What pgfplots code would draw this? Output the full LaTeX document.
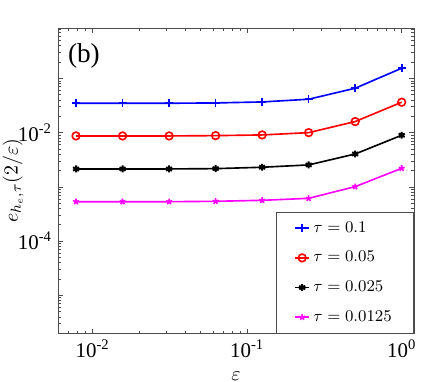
\documentclass[border=0pt]{standalone}
\usepackage{fontspec}
\setmainfont{Liberation Serif}
\usepackage{pgfplots}
\pgfplotsset{compat=1.18}
\definecolor{mblue}{RGB}{0,0,255}
\definecolor{mred}{RGB}{255,0,0}
\definecolor{mmag}{RGB}{255,0,255}

\begin{document}
\begin{tikzpicture}
\begin{axis}[
  xmode=log, ymode=log,
  log basis x=10, log basis y=10,
  scale only axis,
  width=195.6pt, height=167.9pt,
  xmin=0.006, xmax=1.2,
  ymin=2e-6, ymax=0.85,
  xtick={0.01,0.1,1},
  xticklabels={10\textsuperscript{-2},10\textsuperscript{-1},10\textsuperscript{0}},
  ytick={1e-5,1e-4,1e-3,1e-2,1e-1},
  yticklabels={,10\textsuperscript{-4},,10\textsuperscript{-2},},
  minor xtick={0.006,0.007,0.008,0.009,0.02,0.03,0.04,0.05,0.06,0.07,0.08,0.09,
    0.2,0.3,0.4,0.5,0.6,0.7,0.8,0.9},
  minor ytick={2e-6,3e-6,4e-6,5e-6,6e-6,7e-6,8e-6,9e-6,
    2e-5,3e-5,4e-5,5e-5,6e-5,7e-5,8e-5,9e-5,
    2e-4,3e-4,4e-4,5e-4,6e-4,7e-4,8e-4,9e-4,
    2e-3,3e-3,4e-3,5e-3,6e-3,7e-3,8e-3,9e-3,
    2e-2,3e-2,4e-2,5e-2,6e-2,7e-2,8e-2,9e-2,
    2e-1,3e-1,4e-1,5e-1,6e-1,7e-1,8e-1},
  tick align=inside,
  major tick length=2.5pt, minor tick length=1.4pt,
  every tick/.style={black!70},
  axis line style={black!70},
  ticklabel style={font=\fontsize{11.5}{13}\selectfont},
  xlabel={$\varepsilon$},
  ylabel={$e_{h_e,\tau}(2/\varepsilon)$},
  label style={font=\fontsize{11}{13}\selectfont},
  xlabel style={at={(axis description cs:0.5,-0.14)}, anchor=center},
  ylabel style={at={(axis description cs:-0.127,0.5)}, anchor=center},
  legend style={at={(rel axis cs:1,0)}, anchor=south east,
    draw=black!70, fill=white,
    font=\fontsize{9.5}{11}\selectfont,
    inner xsep=10pt, inner ysep=3pt, row sep=5pt},
  legend cell align=left,
  legend image code/.code={\draw[mark repeat=2,mark phase=2]
    plot coordinates {(0cm,0cm)(0.13cm,0cm)(0.26cm,0cm)};},
  clip=false,
]
\addplot[color=mblue, line width=0.9pt, mark=+, mark size=2.2pt] coordinates {
  (0.0078125, 0.0348) (0.015625, 0.0348) (0.03125, 0.0348) (0.0625, 0.0353)
  (0.125, 0.0368) (0.25, 0.0413) (0.5, 0.0659) (1, 0.154)
};
\addlegendentry{$\tau = 0.1$}
\addplot[color=mred, line width=0.9pt, mark=o, mark size=2.1pt] coordinates {
  (0.0078125, 0.00869) (0.015625, 0.00869) (0.03125, 0.00869) (0.0625, 0.00881)
  (0.125, 0.00907) (0.25, 0.0100) (0.5, 0.0160) (1, 0.0364)
};
\addlegendentry{$\tau = 0.05$}
\addplot[color=black, line width=0.9pt, mark=asterisk, mark size=1.9pt,
  mark options={line width=1.1pt}] coordinates {
  (0.0078125, 0.00214) (0.015625, 0.00214) (0.03125, 0.00214) (0.0625, 0.00217)
  (0.125, 0.00230) (0.25, 0.00254) (0.5, 0.00404) (1, 0.00895)
};
\addlegendentry{$\tau = 0.025$}
\addplot[color=mmag, line width=0.9pt, mark=star, mark size=1.7pt,
  mark options={line width=0.9pt}] coordinates {
  (0.0078125, 0.000533) (0.015625, 0.000533) (0.03125, 0.000533) (0.0625, 0.000542)
  (0.125, 0.000565) (0.25, 0.000615) (0.5, 0.00101) (1, 0.00220)
};
\addlegendentry{$\tau = 0.0125$}
\node[font=\fontsize{15}{18}\selectfont] at (rel axis cs:0.072,0.908) {(b)};
\coordinate (bl) at (rel axis cs:-0.164,-0.1595);
\coordinate (tr) at (rel axis cs:1.062,1.0917);
\end{axis}
\pgfresetboundingbox
\path[use as bounding box] (bl) rectangle (tr);
\end{tikzpicture}
\end{document}
